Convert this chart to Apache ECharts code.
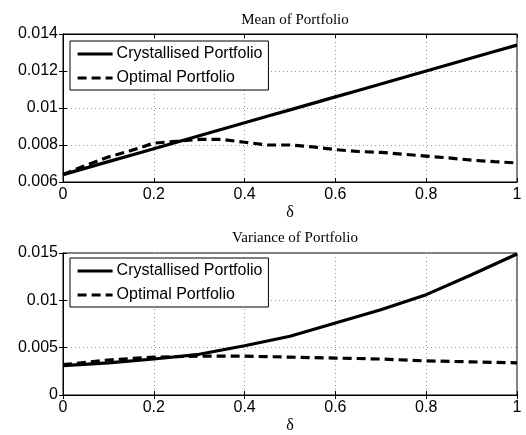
<!DOCTYPE html>
<html><head><meta charset="utf-8">
<script src="https://cdn.jsdelivr.net/npm/echarts@6/dist/echarts.min.js"></script>
<style>html,body{margin:0;padding:0;background:#fff}#c{width:526px;height:435px}</style>
</head><body><div id="c"></div>
<script>
const delta = [0,0.05,0.1,0.15,0.2,0.25,0.3,0.35,0.4,0.45,0.5,0.55,0.6,0.65,0.7,0.75,0.8,0.85,0.9,0.95,1.0];
const meanCrystallised = [0.0064,0.00675,0.0071,0.00745,0.0078,0.00815,0.0085,0.00885,0.0092,0.00955,0.0099,0.01025,0.0106,0.01095,0.0113,0.01165,0.0120,0.01235,0.0127,0.01305,0.0134];
const meanOptimal = [0.0064,0.0069,0.00735,0.0077,0.0081,0.0082,0.0083,0.0083,0.00815,0.0080,0.0080,0.0079,0.00775,0.00765,0.0076,0.0075,0.0074,0.0073,0.00718,0.0071,0.00703];
const varDelta = [0,0.1,0.2,0.3,0.4,0.5,0.6,0.7,0.8,0.9,1.0];
const varCrystallised = [0.0031,0.0034,0.0038,0.0043,0.0052,0.0062,0.0076,0.0090,0.0106,0.0127,0.0149];
const varOptimal = [0.0032,0.0037,0.0040,0.0041,0.0041,0.0040,0.0039,0.0038,0.0036,0.0035,0.0034];
const meanTicks = {min:0.006,max:0.014,interval:0.002};
const varTicks = {min:0,max:0.015,interval:0.005};
const names = ['Crystallised Portfolio','Optimal Portfolio'];

const chart = echarts.init(document.getElementById('c'));
const sans = 'Liberation Sans, Arial, sans-serif';
const serif = 'Liberation Serif, Times New Roman, serif';
const grids = [
  {left:63,right:9,top:34,height:148,show:true,borderColor:'#000',borderWidth:1,backgroundColor:'#fff'},
  {left:63,right:9,top:253,height:145,show:true,borderColor:'#000',borderWidth:1,backgroundColor:'#fff'}
];
function xAx(i){
  return [{type:'value',gridIndex:i,min:0,max:1,interval:0.2,position:'bottom',
    name:'δ',nameLocation:'middle',nameGap:23,nameTextStyle:{fontFamily:serif,fontSize:16,color:'#000'},
    axisLine:{show:true,lineStyle:{color:'#000'}},axisTick:{show:true,inside:true,length:4,lineStyle:{color:'#000'}},
    axisLabel:{fontFamily:sans,fontSize:16,color:'#000',margin:5},
    splitLine:{show:true,lineStyle:{color:'#999',type:[1,3],width:1}}},
   {type:'value',gridIndex:i,min:0,max:1,interval:0.2,position:'top',
    axisLine:{show:true,lineStyle:{color:'#000'}},axisTick:{show:true,inside:true,length:4,lineStyle:{color:'#000'}},
    axisLabel:{show:false},splitLine:{show:false}}];
}
function yAx(i,t){
  return [{type:'value',gridIndex:i,min:t.min,max:t.max,interval:t.interval,position:'left',
    axisLine:{show:true,lineStyle:{color:'#000'}},axisTick:{show:true,inside:true,length:4,lineStyle:{color:'#000'}},
    axisLabel:{fontFamily:sans,fontSize:16,color:'#000',margin:5},
    splitLine:{show:true,lineStyle:{color:'#999',type:[1,3],width:1}}},
   {type:'value',gridIndex:i,min:t.min,max:t.max,interval:t.interval,position:'right',
    axisLine:{show:true,lineStyle:{color:'#000'}},axisTick:{show:true,inside:true,length:4,lineStyle:{color:'#000'}},
    axisLabel:{show:false},splitLine:{show:false}}];
}
function ser(name,xs,ys,xi,yi,dashed){
  return {name:name,type:'line',xAxisIndex:xi,yAxisIndex:yi,symbol:'none',smooth:false,
    data:xs.map((x,k)=>[x,ys[k]]),
    lineStyle:{color:'#000',width:3.2,type:dashed?[9,5]:'solid'},itemStyle:{color:'#000'},z:5};
}
function leg(top){
  return {data:names,orient:'vertical',left:70,top:top,itemWidth:35,itemHeight:14,itemGap:8,
    backgroundColor:'#fff',borderColor:'#000',borderWidth:1,borderRadius:0,padding:[5,6,4,6],
    itemStyle:{opacity:0},lineStyle:{width:3.2},
    textStyle:{fontFamily:sans,fontSize:16,color:'#000',padding:[0,0,0,-1]},selectedMode:false,z:10};
}
chart.setOption({
  animation:false,
  backgroundColor:'#fff',
  title:[
    {text:'Mean of Portfolio',left:290,top:8,textAlign:'center',textStyle:{fontFamily:serif,fontSize:15,fontWeight:'normal',color:'#000'}},
    {text:'Variance of Portfolio',left:290,top:226,textAlign:'center',textStyle:{fontFamily:serif,fontSize:15,fontWeight:'normal',color:'#000'}}
  ],
  legend:[leg(41),leg(258)],
  grid:grids,
  xAxis:[...xAx(0),...xAx(1)],
  yAxis:[...yAx(0,meanTicks),...yAx(1,varTicks)],
  series:[
    ser(names[0],delta,meanCrystallised,0,0,false),
    ser(names[1],delta,meanOptimal,0,0,true),
    ser(names[0],varDelta,varCrystallised,2,2,false),
    ser(names[1],varDelta,varOptimal,2,2,true)
  ]
});
</script></body></html>
